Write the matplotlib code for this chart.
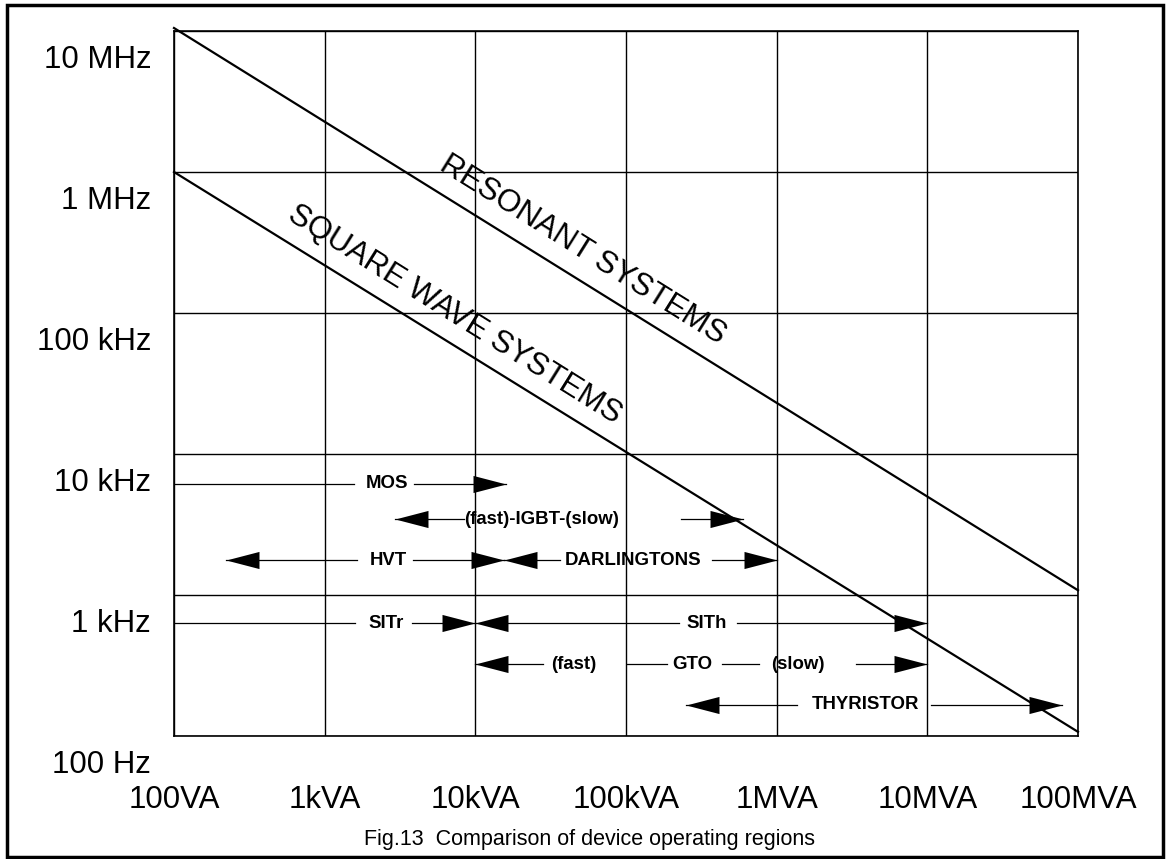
"""Comparison of power device operating regions (frequency vs. power)."""

import matplotlib.pyplot as plt
from matplotlib.patches import Rectangle
from matplotlib.path import Path
from matplotlib.transforms import ScaledTranslation

plt.rcParams["font.family"] = ["Liberation Sans", "DejaVu Sans"]

# Axis decades
power_ticks = [1e2, 1e3, 1e4, 1e5, 1e6, 1e7, 1e8]
power_labels = ["100VA", "1kVA", "10kVA", "100kVA", "1MVA", "10MVA", "100MVA"]
freq_ticks = [1e2, 1e3, 1e4, 1e5, 1e6, 1e7]
freq_labels = ["100 Hz", "1 kHz", "10 kHz", "100 kHz", "1 MHz", "10 MHz"]

# System boundary lines (VA, Hz)
resonant_va = [1e2, 1e8]
resonant_hz = [1.05e7, 1.08e3]
square_va = [1e2, 1e8]
square_hz = [1.0e6, 1.07e2]

# Boundary captions: (text, VA, Hz) of the text centre
resonant_caption = ("RESONANT SYSTEMS", 51900, 2.8e5)
square_caption = ("SQUARE WAVE SYSTEMS", 7330, 9.7e4)

# Device ranges: frequency level, line pieces (VA), labels (text, VA), arrow tips (VA, side)
mos_hz = 6170
mos_shafts = [(100, 1560), (3920, 15900)]
mos_labels = [("MOS", 2590)]
mos_tips = [(15900, "right")]

igbt_hz = 3450
igbt_shafts = [(2930, 8450), (231000, 596000)]
igbt_labels = [("(fast)-IGBT-(slow)", 27700)]
igbt_tips = [(2930, "left"), (596000, "right")]

hvt_hz = 1760
hvt_shafts = [(221, 1630), (3860, 15400)]
hvt_labels = [("HVT", 2630)]
hvt_tips = [(221, "left"), (15400, "right")]

darl_hz = 1760
darl_shafts = [(15400, 36600), (372000, 1.0e6)]
darl_labels = [("DARLINGTONS", 112000)]
darl_tips = [(15400, "left"), (1.0e6, "right")]

sitr_hz = 630
sitr_shafts = [(100, 1580), (3800, 1.0e4)]
sitr_labels = [("SITr", 2550)]
sitr_tips = [(1.0e4, "right")]

sith_hz = 630
sith_shafts = [(1.0e4, 224000), (543000, 1.0e7)]
sith_labels = [("SITh", 344000)]
sith_tips = [(1.0e4, "left"), (1.0e7, "right")]

gto_hz = 324
gto_shafts = [(1.0e4, 28200), (102000, 187000), (432000, 760000), (3.36e6, 1.0e7)]
gto_labels = [("(fast)", 45100), ("GTO", 276000), ("(slow)", 1.38e6)]
gto_tips = [(1.0e4, "left"), (1.0e7, "right")]

thy_hz = 167
thy_shafts = [(250000, 1.36e6), (1.06e7, 7.82e7)]
thy_labels = [("THYRISTOR", 3.89e6)]
thy_tips = [(250000, "left"), (7.82e7, "right")]

HEAD_RIGHT = Path([(0, 0), (-1, 0.26), (-1, -0.26), (0, 0)],
                  [Path.MOVETO, Path.LINETO, Path.LINETO, Path.CLOSEPOLY])
HEAD_LEFT = Path([(0, 0), (1, 0.26), (1, -0.26), (0, 0)],
                 [Path.MOVETO, Path.LINETO, Path.LINETO, Path.CLOSEPOLY])


def draw_range(ax, hz, shafts, labels, tips):
    """Draw one device range: thin line pieces, labels and filled arrow heads."""
    for x0, x1 in shafts:
        ax.plot([x0, x1], [hz, hz], color="black", lw=0.9, zorder=3)
    for text, x in labels:
        ax.text(x, hz, text, ha="center", va="center", fontsize=13.4,
                fontweight="bold", zorder=4)
    for x, side in tips:
        marker = HEAD_RIGHT if side == "right" else HEAD_LEFT
        ax.plot([x], [hz], marker=marker, ms=47.5, color="black",
                markeredgewidth=0, linestyle="none", zorder=5, clip_on=False)


fig = plt.figure(figsize=(11.68, 8.59), dpi=100)
ax = fig.add_axes([174 / 1168, 1 - 736 / 859, 904 / 1168, 705 / 859])

ax.set_xscale("log")
ax.set_yscale("log")
ax.set_xlim(1e2, 1e8)
ax.set_ylim(1e2, 1e7)
ax.minorticks_off()

ax.set_xticks(power_ticks, power_labels)
ax.tick_params(axis="x", length=0, pad=35, labelsize=22.5)
ax.set_yticks(freq_ticks)
ax.set_yticklabels([])
ax.tick_params(axis="y", length=0)
ax.grid(True, which="major", color="black", lw=1.0)
ax.set_axisbelow(True)
for spine in ax.spines.values():
    spine.set_linewidth(1.2)

# Frequency labels sit a little below their grid lines
label_shift = ScaledTranslation(-23 / 100, -29 / 100, fig.dpi_scale_trans)
for f, lab in zip(freq_ticks, freq_labels):
    ax.text(0, f, lab, transform=ax.get_yaxis_transform() + label_shift,
            ha="right", va="center", fontsize=22.5)

# Boundary lines
ax.plot(resonant_va, resonant_hz, color="black", lw=1.6, clip_on=False, zorder=3)
ax.plot(square_va, square_hz, color="black", lw=1.6, clip_on=False, zorder=3)
for text, x, y in (resonant_caption, square_caption):
    ax.text(x, y, text, rotation=-32, rotation_mode="anchor", ha="center",
            va="center", fontsize=22.5, zorder=4)

draw_range(ax, mos_hz, mos_shafts, mos_labels, mos_tips)
draw_range(ax, igbt_hz, igbt_shafts, igbt_labels, igbt_tips)
draw_range(ax, hvt_hz, hvt_shafts, hvt_labels, hvt_tips)
draw_range(ax, darl_hz, darl_shafts, darl_labels, darl_tips)
draw_range(ax, sitr_hz, sitr_shafts, sitr_labels, sitr_tips)
draw_range(ax, sith_hz, sith_shafts, sith_labels, sith_tips)
draw_range(ax, gto_hz, gto_shafts, gto_labels, gto_tips)
draw_range(ax, thy_hz, thy_shafts, thy_labels, thy_tips)

fig.text(590 / 1168, 1 - 840 / 859, "Fig.13  Comparison of device operating regions",
         ha="center", va="center", fontsize=15.5)

# Outer frame around the whole figure
fig.patches.append(Rectangle((7 / 1168, 2 / 859), 1156 / 1168, 852 / 859,
                             transform=fig.transFigure, fill=False,
                             edgecolor="black", lw=2.5))

fig.savefig("out.png", dpi=100)
plt.close(fig)
